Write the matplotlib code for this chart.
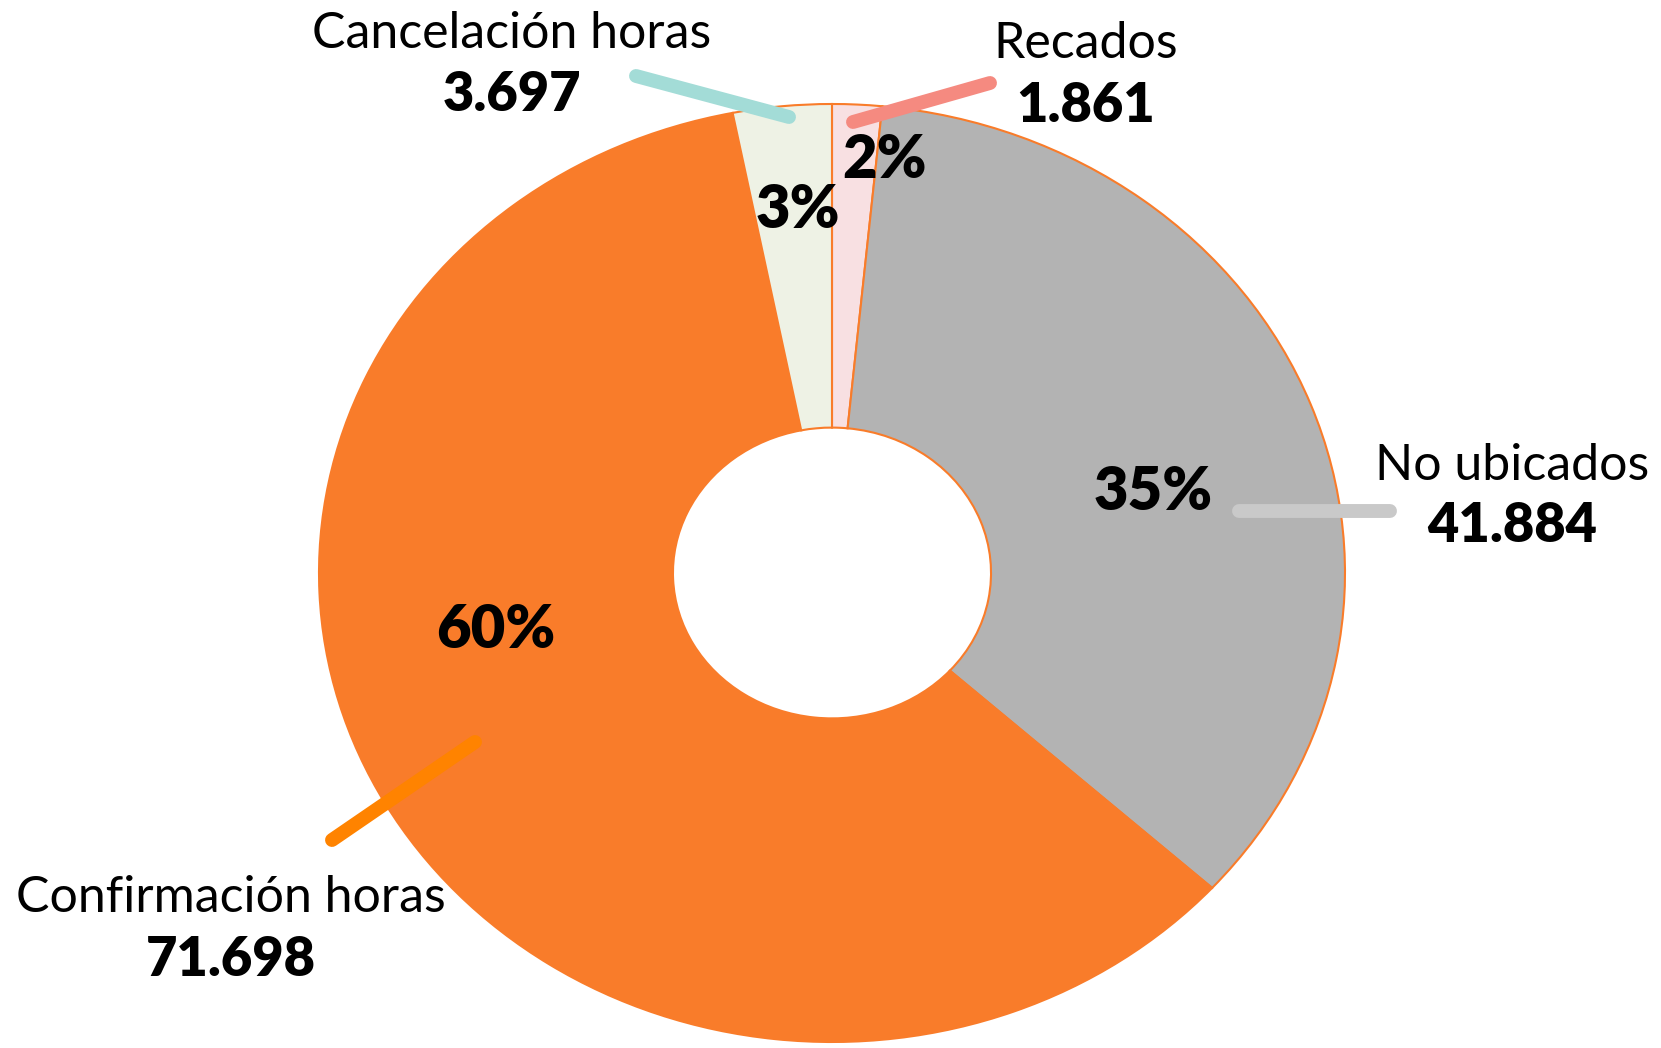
import matplotlib
matplotlib.use('Agg')
import matplotlib.pyplot as plt

# data
categories = ['Recados', 'No ubicados', 'Confirmación horas', 'Cancelación horas']
values = [1861, 41884, 71698, 3697]
value_labels = ['1.861', '41.884', '71.698', '3.697']
colors = ['#F8E0E2', '#B3B3B3', '#F97C2A', '#EEF2E5']
line_colors = ['#F58A80', '#C9C9C9', '#FF8300', '#A3DCD7']

plt.rcParams['font.family'] = ['Lato', 'DejaVu Sans']

W, H = 1661, 1048
fig = plt.figure(figsize=(W / 100, H / 100), dpi=100)

# pie sits in a stretched box (the original is a bit wider than tall)
cx, cy, rx, ry = 832, 573, 513, 469
ax = fig.add_axes([(cx - rx) / W, (H - cy - ry) / H, 2 * rx / W, 2 * ry / H])
ax.pie(values, colors=colors, startangle=90, counterclock=False,
       wedgeprops=dict(width=0.69, edgecolor='#F97C2A', linewidth=1.5))
ax.set_aspect('auto')
ax.set_xlim(-1, 1)
ax.set_ylim(-1, 1)
ax.axis('off')

# overlay in pixel coordinates for labels and leader lines
ov = fig.add_axes([0, 0, 1, 1], facecolor='none')
ov.set_xlim(0, W)
ov.set_ylim(H, 0)
ov.axis('off')

total = sum(values)
pcts = [f"{round(v / total * 100)}%" for v in values]

name_pos = [(1086, 44), (1512, 466), (231, 898), (512, 34)]
val_pos = [(1086, 106), (1512, 526), (231, 960), (512, 95)]
pct_pos = [(885, 161), (1153, 493), (496, 630), (798, 210)]
leaders = [((853, 122), (990, 83)), ((1239, 511), (1390, 511)),
           ((332, 840), (475, 742)), ((636, 76), (789, 117))]

for i in range(len(categories)):
    (x0, y0), (x1, y1) = leaders[i]
    ov.plot([x0, x1], [y0, y1], color=line_colors[i], lw=10,
            solid_capstyle='round')
    ov.text(*name_pos[i], categories[i], ha='center', va='center',
            fontsize=36, color='black')
    ov.text(*val_pos[i], value_labels[i], ha='center', va='center',
            fontsize=39, fontweight='heavy', color='black')
    ov.text(*pct_pos[i], pcts[i], ha='center', va='center',
            fontsize=43, fontweight='heavy', color='black')

fig.savefig('out.png', dpi=100, facecolor='white')
